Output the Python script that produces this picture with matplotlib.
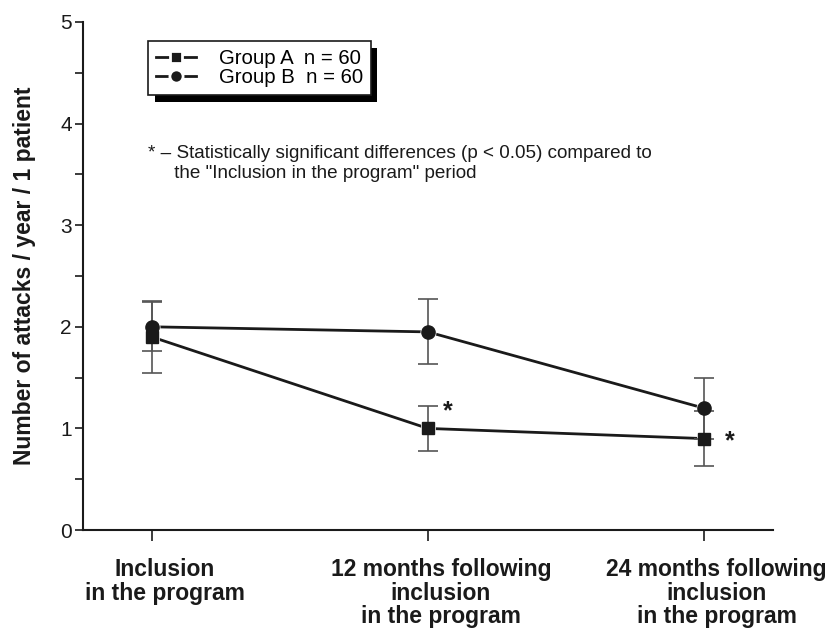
import numpy as np
import matplotlib.pyplot as plt
import matplotlib.patheffects as pe
from matplotlib.transforms import ScaledTranslation
from matplotlib.ticker import MultipleLocator

plt.rcParams["font.family"] = ["Liberation Sans", "DejaVu Sans"]

periods = ["Inclusion\nin the program",
           "12 months following\ninclusion\nin the program",
           "24 months following\ninclusion\nin the program"]
group_a = [1.9, 1.0, 0.9]
group_a_err = [0.35, 0.22, 0.27]
group_b = [2.0, 1.95, 1.2]
group_b_err = [0.24, 0.32, 0.3]
signif_a = [False, True, True]

x = np.arange(len(periods))

fig = plt.figure(figsize=(8.33, 6.28), dpi=100)
ax = fig.add_axes([0.0996, 0.156, 0.828, 0.809])

ink = "#1a1a1a"
# lines with white-edged markers leave small gaps, like the original
ax.plot(x, group_a, color=ink, lw=2, marker="s", ms=8.5, mec="white",
        mew=2.0, zorder=2, label="Group A  n = 60")
ax.plot(x, group_b, color=ink, lw=2, marker="o", ms=9.5, mec="white",
        mew=2.0, zorder=2, label="Group B  n = 60")
ax.errorbar(x, group_b, yerr=group_b_err, fmt="none", ecolor="#555555",
            elinewidth=1.2, capsize=7, capthick=1.2, zorder=3)
ax.errorbar(x, group_a, yerr=group_a_err, fmt="none", ecolor="#555555",
            elinewidth=1.2, capsize=7, capthick=1.2, zorder=3)
ax.plot(x, group_a, ls="none", marker="s", ms=8.5, color=ink, zorder=4)
ax.plot(x, group_b, ls="none", marker="o", ms=9.5, color=ink, zorder=4)

# star offsets (points) next to group A markers
star_offsets = [(0, 0), (14, 12), (19, -2)]
for xi, yi, s, off in zip(x, group_a, signif_a, star_offsets):
    if s:
        ax.annotate("*", (xi, yi), xytext=off, textcoords="offset points",
                    fontsize=18, fontweight="bold", color=ink,
                    ha="center", va="center")

ax.text(0.094, 0.758, "* – Statistically significant differences (p < 0.05) compared to\n"
        "     the \"Inclusion in the program\" period",
        transform=ax.transAxes, fontsize=13.6, color=ink, va="top",
        linespacing=1.25)

ax.set_xlim(-0.25, 2.25)
ax.set_ylim(0, 5)
ax.set_xticks(x)
ax.set_xticklabels(periods, fontsize=16.5, fontweight="bold", color=ink,
                   linespacing=1.04)
ax.yaxis.set_major_locator(MultipleLocator(1))
ax.yaxis.set_minor_locator(MultipleLocator(0.5))
ax.tick_params(axis="y", which="both", direction="out", length=6, width=1.2,
               labelsize=15, pad=2, colors=ink)
ax.tick_params(axis="x", direction="out", length=8, width=1.2, pad=12,
               colors=ink)
for lab in ax.get_xticklabels():
    lab.set_transform(lab.get_transform() + ScaledTranslation(0.13, 0, fig.dpi_scale_trans))

ax.set_ylabel("Number of attacks / year / 1 patient", fontsize=16.5,
              fontweight="bold", color=ink, labelpad=17)

for side in ["top", "right"]:
    ax.spines[side].set_visible(False)
for side in ["left", "bottom"]:
    ax.spines[side].set_linewidth(1.5)
    ax.spines[side].set_color(ink)

leg = ax.legend(loc="upper left", bbox_to_anchor=(0.094, 0.962), fontsize=14.7,
                frameon=True, fancybox=False, edgecolor=ink, framealpha=1,
                handlelength=1.96, borderpad=0.38, labelspacing=0.0,
                handletextpad=1.13, borderaxespad=0)
leg.get_frame().set_linewidth(1.2)
leg.get_frame().set_path_effects([
    pe.SimplePatchShadow(offset=(5, -5), shadow_rgbFace="black", alpha=1),
    pe.Normal()])

fig.savefig("out.png", dpi=100)
